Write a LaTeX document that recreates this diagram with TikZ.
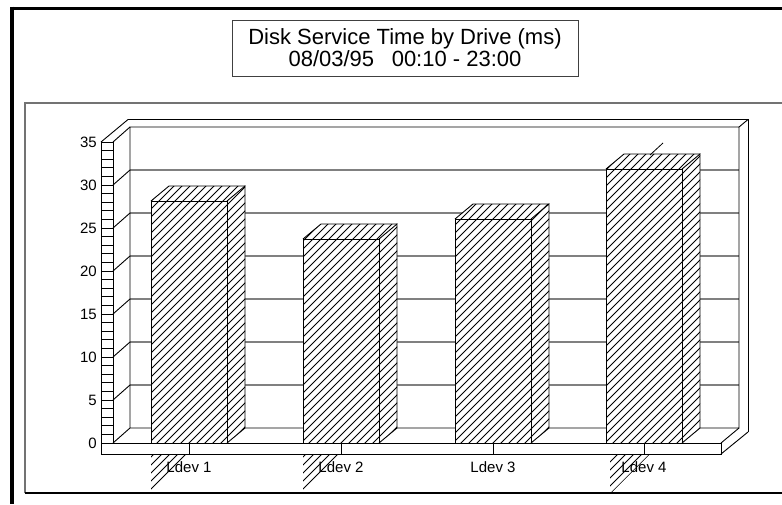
\documentclass[tikz,border=0pt]{standalone}
\usepackage{fontspec}
\setmainfont{Liberation Sans}
\begin{document}
\begin{tikzpicture}[x=1pt,y=-1pt,
  edge/.style={line width=0.9pt,black},
  gridline/.style={line width=1.1pt,black!50},
  hatchline/.style={line width=0.8pt,black},
  ticklabel/.style={anchor=east,inner sep=0pt,font=\fontsize{15}{15}\selectfont},
  catlabel/.style={anchor=center,inner sep=0pt,font=\fontsize{15}{15}\selectfont},
  titlebox/.style={draw=black!75,line width=0.8pt,minimum width=346pt,minimum height=56pt,
    align=center,inner sep=0pt,font=\fontsize{22}{22}\selectfont},
]
\useasboundingbox (0,0) rectangle (782,504);
\fill[white] (0,0) rectangle (782,504);

% hatching of a closed region with 45-degree lines
\newcommand\hatchregion[1]{%
  \begin{scope}
    \clip #1;
    \foreach \c in {96,104,...,1320}{\draw[hatchline] (\c-540,540) -- (\c,0);}
  \end{scope}}

% outer frame and chart panel
\draw[line width=3pt] (10,8) -- (782,8);
\draw[line width=4pt] (11.5,6.5) -- (11.5,504);
\draw[line width=1.2pt,black!55] (25,493) -- (25,103) -- (782,103);
\draw[line width=1.4pt,black] (25,493) -- (782,493);

% title
\node[titlebox] (title) at (405,48) {Disk Service Time by Drive (ms)\\08/03/95\hspace{0.8em}00:10 - 23:00};

% coordinates of the 3D chart box
\coordinate (lf0) at (113,443);   % inner front corner of floor
\coordinate (lb0) at (130,428);   % inner back corner of floor
\coordinate (rb0) at (739,428);
\coordinate (rbt) at (739,127);
\coordinate (lbt) at (130,127);

% back wall grid lines and connectors to the axis ladder
\foreach \v in {5,10,...,30}{
  \pgfmathsetmacro\yf{443-8.6*\v}
  \pgfmathsetmacro\yb{\yf-15}
  \draw[gridline] (130,\yb) -- (739,\yb);
  \draw[edge] (113,\yf) -- (130,\yb);
}

% back wall frame
\draw[edge] (lb0) -- (lbt) -- (rbt) -- (rb0) -- (lb0) -- (lf0);
\draw[edge] (128,119.5) -- (748,119.5) -- (748,432);
\draw[edge] (rbt) -- (748,119.5);
\draw[edge] (101,142) -- (128,119.5);
\draw[edge] (113,142) -- (lbt);

% floor slab
\draw[edge] (101,443) rectangle (721,454);
\draw[edge] (721,443) -- (rb0);
\draw[edge] (721,454) -- (748,432);

% axis ladder with one rung per unit
\draw[edge] (101,142) rectangle (113,443);
\foreach \v in {1,...,34}{
  \pgfmathsetmacro\yf{443-8.6*\v}
  \draw[edge] (101,\yf) -- (113,\yf);
}
\foreach \v/\nm in {0/a0,5/a5,10/a10,15/a15,20/a20,25/a25,30/a30,35/a35}{
  \pgfmathsetmacro\yf{443-8.6*\v}
  \node[ticklabel] (\nm) at (97,\yf) {\v};
}

% bars
\foreach \xl/\yt in {151/201,303/239,455/219,606/169}{
  \pgfmathsetmacro\xr{\xl+76}
  \pgfmathsetmacro\xrb{\xr+18}
  \pgfmathsetmacro\xlb{\xl+18}
  \pgfmathsetmacro\ytb{\yt-15}
  \fill[white] (\xl,443) -- (\xr,443) -- (\xrb,428) -- (\xrb,\ytb) -- (\xlb,\ytb) -- (\xl,\yt) -- cycle;
  \hatchregion{(\xl,443) -- (\xr,443) -- (\xrb,428) -- (\xrb,\ytb) -- (\xlb,\ytb) -- (\xl,\yt) -- cycle}
  \draw[edge] (\xl,443) rectangle (\xr,\yt);
  \draw[edge] (\xr,443) -- (\xrb,428) -- (\xrb,\ytb) -- (\xr,\yt);
  \draw[edge] (\xl,\yt) -- (\xlb,\ytb) -- (\xrb,\ytb);
}

% stray hatching below bars 1, 2, 4 and above bar 4
\foreach \xl in {151,303,610}{
  \hatchregion{(\xl,454) -- (\xl+40,454) -- (\xl,494) -- cycle}
}
\draw[hatchline] (650,155) -- (663,143);

% category ticks and labels
\foreach \xc/\n in {189/1,341/2,493/3,644/4}{
  \draw[edge] (\xc,443) -- (\xc,454);
  \node[catlabel] (ldev\n) at (\xc,467) {Ldev \n};
}
\end{tikzpicture}
\end{document}
